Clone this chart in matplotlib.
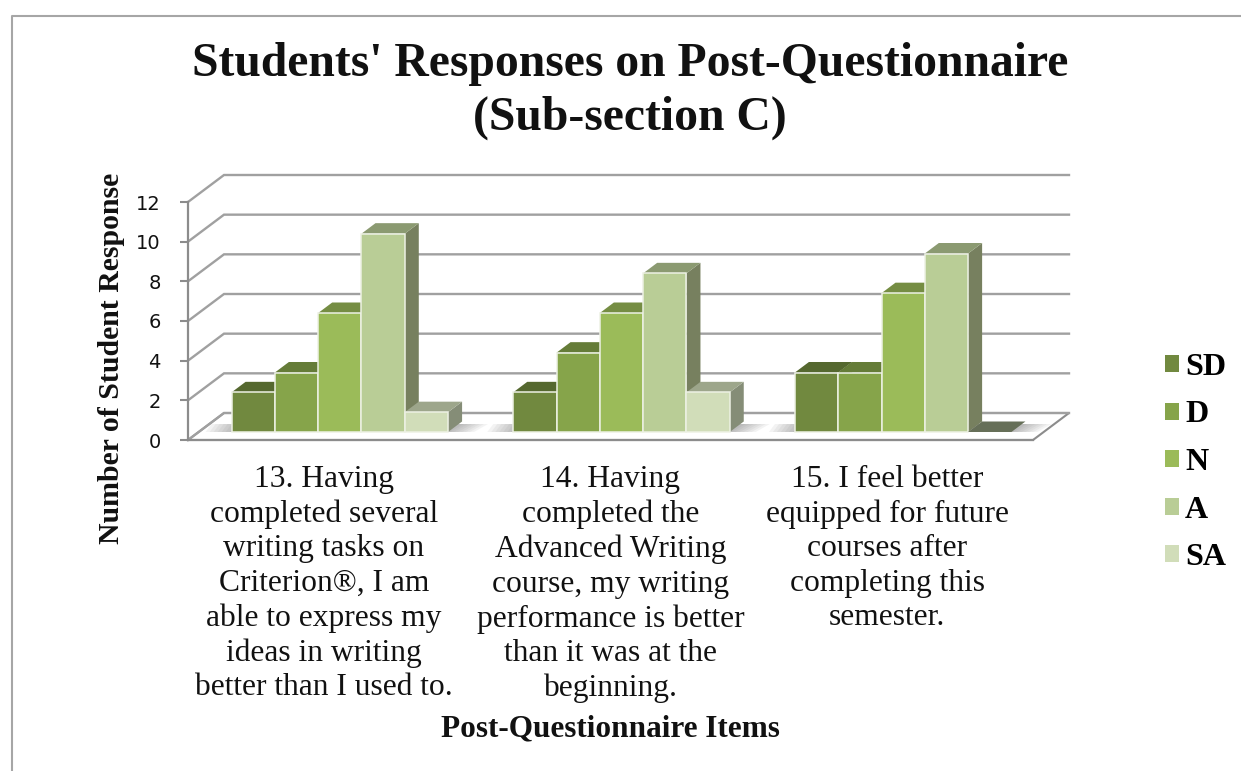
import matplotlib
matplotlib.use("Agg")
import matplotlib.pyplot as plt
from matplotlib.patches import Polygon, Patch
from matplotlib.lines import Line2D

categories = [
    "13. Having\ncompleted several\nwriting tasks on\nCriterion®, I am\nable to express my\nideas in writing\nbetter than I used to.",
    "14. Having\ncompleted the\nAdvanced Writing\ncourse, my writing\nperformance is better\nthan it was at the\nbeginning.",
    "15. I feel better\nequipped for future\ncourses after\ncompleting this\nsemester.",
]
series_names = ["SD", "D", "N", "A", "SA"]
sd = [2, 2, 3]
d = [3, 4, 3]
n = [6, 6, 7]
a = [10, 8, 9]
sa = [1, 2, 0]
y_ticks = [0, 2, 4, 6, 8, 10, 12]

front_colors = ["#71893F", "#86A44A", "#9BBB59", "#B9CD96", "#D1DDB9"]
top_colors = ["#55682F", "#657C38", "#758D43", "#8B9A71", "#9DA68B"]
side_colors = ["#5F7035", "#6F8340", "#7B8F50", "#77805F", "#858D77"]
zero_color = "#666F58"
grid_color = "#A0A0A0"

W, H = 1241, 771
fig = plt.figure(figsize=(W / 100, H / 100), dpi=100, facecolor="white")
L, R, B, T = 188, 1033, 440, 202
ax = fig.add_axes([L / W, 1 - B / H, (R - L) / W, (B - T) / H])
ax.set_xlim(0, 3)
ax.set_ylim(0, 12)
ax.patch.set_visible(False)
SX, SY = (R - L) / 3, (B - T) / 12


def off(x, y, px, py):
    """data point shifted by an oblique offset given in pixels"""
    return (x + px / SX, y + py / SY)


WALL = (36, 27)
PLANE = (11, 8)
DEPTH = (14, 10.5)
BW = 43.3 / SX

# floor
floor = Polygon([off(0, 0, 0, 0), off(0, 0, *WALL), off(3, 0, *WALL), off(3, 0, 0, 0)],
                closed=True, fc="white", ec="#8c8c8c", lw=1.5, clip_on=False, zorder=1)
ax.add_patch(floor)

# gridlines on the back wall and side wall
for v in y_ticks:
    xs, ys = zip(off(0, v, 0, 0), off(0, v, *WALL), off(3, v, *WALL))
    ax.plot(xs, ys, color=grid_color, lw=1.7, clip_on=False, zorder=1.5,
            solid_joinstyle="miter")

values = [sd, d, n, a, sa]

# soft floor shadows
for g in range(len(categories)):
    x0 = g + 0.5 - 2.5 * BW
    x1 = g + 0.5 + 2.5 * BW
    for k in range(7):
        e = 2 + k * 4
        ax.add_patch(Polygon([off(x0, 0, PLANE[0] - e, PLANE[1]), off(x0, 0, PLANE[0] - e + 6, PLANE[1] + 8),
                              off(x1, 0, PLANE[0] + 14 + e, PLANE[1] + 8), off(x1, 0, PLANE[0] + e, PLANE[1])],
                             closed=True, fc="#606060", ec="none", alpha=0.07,
                             clip_on=False, zorder=1.8))

# bars
z = 2.0
for g in range(len(categories)):
    for s, vals in enumerate(values):
        v = vals[g]
        x0 = g + 0.5 + (s - 2.5) * BW
        x1 = x0 + BW
        dx, dy = DEPTH
        fa, fb = off(x0, 0, *PLANE), off(x1, 0, *PLANE)
        ta, tb = off(x0, v, *PLANE), off(x1, v, *PLANE)
        if v == 0:
            ax.add_patch(Polygon([fa, fb, off(fb[0], fb[1], dx, dy), off(fa[0], fa[1], dx, dy)],
                                 closed=True, fc=zero_color, ec="none", clip_on=False, zorder=z))
            z += 0.01
            continue
        ax.add_patch(Polygon([fb, off(fb[0], fb[1], dx, dy), off(tb[0], tb[1], dx, dy), tb],
                             closed=True, fc=side_colors[s], ec="none", clip_on=False, zorder=z))
        z += 0.01
        ax.add_patch(Polygon([ta, tb, off(tb[0], tb[1], dx, dy), off(ta[0], ta[1], dx, dy)],
                             closed=True, fc=top_colors[s], ec="none", clip_on=False, zorder=z))
        z += 0.01
        ax.add_patch(Polygon([fa, fb, tb, ta], closed=True, fc=front_colors[s],
                             ec="#EDF1E4", lw=1.1, clip_on=False, zorder=z))
        z += 0.01

# axes
for sp in ("top", "right"):
    ax.spines[sp].set_visible(False)
for sp in ("left", "bottom"):
    ax.spines[sp].set_color("#8c8c8c")
    ax.spines[sp].set_linewidth(1.6)
    ax.spines[sp].set_zorder(1.6)
ax.set_yticks(y_ticks)
ax.set_yticklabels([str(t) for t in y_ticks], family="DejaVu Sans", fontsize=14,
                   color="#111111")
ax.tick_params(axis="y", length=5.5, width=1.5, color="#8c8c8c", pad=14)
ax.set_xticks([0.482, 1.5, 2.482])
ax.set_xticklabels(categories, family="Liberation Serif", fontsize=22.7,
                   linespacing=1.247, color="#111111")
ax.tick_params(axis="x", length=0, pad=18)

ax.set_xlabel("Post-Questionnaire Items", family="Liberation Serif", fontweight="bold",
              fontsize=22.5, color="#111111")
ax.xaxis.set_label_coords((610 - L) / (R - L), -(714 - B) / (B - T))
ax.set_ylabel("Number of Student Response", family="Liberation Serif", fontweight="bold",
              fontsize=21.4, color="#111111")
ax.yaxis.set_label_coords((125 - L) / (R - L), (B - 358) / (B - T), transform=ax.transAxes)

fig.text(630 / W, 1 - 91 / H, "Students' Responses on Post-Questionnaire\n(Sub-section C)",
         family="Liberation Serif", fontweight="bold", fontsize=34.3, ha="center", va="center",
         linespacing=1.26, color="#111111")

handles = [Patch(fc=c, ec="none", label=nm) for c, nm in zip(front_colors, series_names)]
leg = fig.legend(handles=handles, loc="center left", bbox_to_anchor=(1165 / W, 1 - 462.5 / H),
                 frameon=False, prop={"family": "Liberation Serif", "weight": "bold", "size": 23},
                 handlelength=0.44, handleheight=0.44, handletextpad=0.19, labelspacing=0.58,
                 borderpad=0, borderaxespad=0)

# outer chart frame
fig.add_artist(Line2D([11.5 / W, 11.5 / W, 1], [0, 1 - 15.5 / H, 1 - 15.5 / H],
                      transform=fig.transFigure, color="#a6a6a6", lw=1.5))

fig.savefig("out.png", dpi=100)
